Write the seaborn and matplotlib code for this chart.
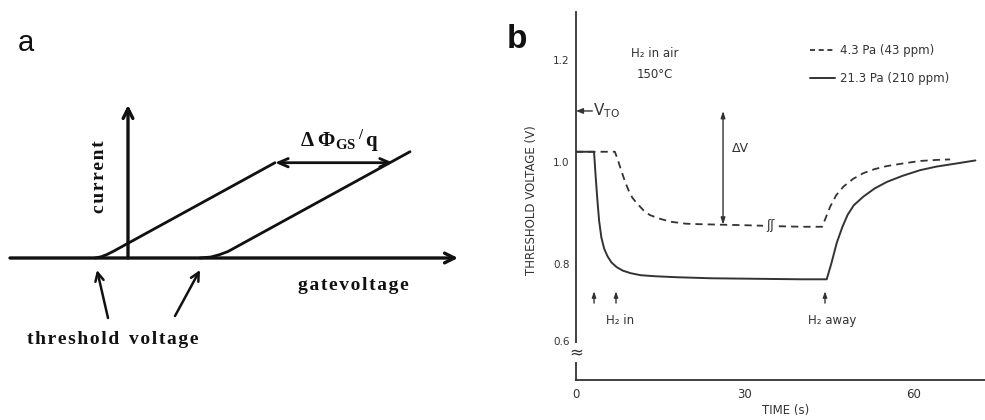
import numpy as np
import matplotlib
matplotlib.use("Agg")
import matplotlib.pyplot as plt
import seaborn as sns
from matplotlib.ticker import FixedLocator, FixedFormatter

# ---------------- Panel b data ----------------
time_high = [0, 3.2, 3.5, 3.8, 4.1, 4.5, 5.0, 5.6, 6.3, 7.2, 8.3, 9.7, 11.5, 14, 18,
             24, 32, 40, 44.5, 45.3, 46.3, 47.3, 48.2, 49.3, 51.0, 53.0, 55.2, 58.0,
             61.1, 64.0, 67.5, 70.9]
vth_high = [1.02, 1.02, 0.97, 0.925, 0.885, 0.852, 0.830, 0.815, 0.803, 0.794, 0.787,
            0.782, 0.778, 0.776, 0.774, 0.772, 0.771, 0.770, 0.770, 0.800, 0.842, 0.873,
            0.896, 0.915, 0.932, 0.948, 0.961, 0.973, 0.984, 0.991, 0.997, 1.003]

time_low_1 = [0, 6.9, 7.4, 7.8, 8.5, 9.3, 10.0, 10.8, 12.0, 13.1, 14.8, 16.7, 19.5,
              22.0, 26.0, 30.0, 33.2]
vth_low_1 = [1.02, 1.02, 1.005, 0.991, 0.968, 0.945, 0.930, 0.919, 0.905, 0.896, 0.889,
             0.883, 0.879, 0.878, 0.877, 0.876, 0.875]
time_low_2 = [36.0, 40.0, 43.7, 45.1, 46.2, 47.5, 49.2, 51.0, 53.0, 55.2, 58.0, 61.1,
              64.0, 66.4]
vth_low_2 = [0.874, 0.873, 0.873, 0.912, 0.935, 0.952, 0.967, 0.978, 0.986, 0.992,
             0.997, 1.002, 1.004, 1.005]

label_low = "4.3 Pa (43 ppm)"
label_high = "21.3 Pa (210 ppm)"
y_ticks = [0.6, 0.8, 1.0, 1.2]
y_tick_labels = ["0.6", "0.8", "1.0", "1.2"]
y_minor = [0.9]
x_ticks = [0, 30, 60]
x_tick_labels = ["0", "30", "60"]
v_to = 1.10
delta_v_time = 26.1
delta_v_low = 0.877
h2_in_times = [3.2, 7.1]
h2_away_time = 44.2
gap_time = 34.6
gap_level = 0.875
axis_break_level = 0.565

# ---------------- Panel a schematic data (arbitrary units) ----------------
gate_axis = [-11.8, 33.0]
current_axis = [0.0, 15.3]
curve1_v = [-3.3, -2.7, -2.1, -1.5, 14.7]
curve1_i = [0.0, 0.12, 0.35, 0.65, 9.53]
curve2_v = [7.2, 8.3, 9.2, 10.0, 28.2]
curve2_i = [0.0, 0.10, 0.35, 0.65, 10.63]
shift_arrow_v = [14.7, 26.5]
shift_arrow_i = 9.53

sns.set_style("white")
plt.rcParams["font.family"] = ["DejaVu Sans"]
plt.rcParams["mathtext.fontset"] = "custom"
plt.rcParams["mathtext.rm"] = "Liberation Serif:bold"
plt.rcParams["mathtext.it"] = "Liberation Serif:bold"
plt.rcParams["mathtext.bf"] = "Liberation Serif:bold"

INK = "#111111"
GREY = "#333333"
SERIF = ["Liberation Serif", "DejaVu Serif"]


def spaced(s):
    return "\u200a".join(s)


fig = plt.figure(figsize=(9.85, 4.2), dpi=100)

# ======================= Panel a =======================
axa = fig.add_axes([0, 0, 490 / 985, 1])
axa.set_xlim(-12.8, 36.2)
axa.set_ylim(-16.2, 25.8)
axa.axis("off")

ap_axis = dict(arrowstyle="->,head_length=0.7,head_width=0.35", lw=2.4, color=INK,
               shrinkA=0, shrinkB=0)
axa.annotate("", xy=(gate_axis[1], 0), xytext=(gate_axis[0], 0), arrowprops=ap_axis)
axa.annotate("", xy=(0, current_axis[1]), xytext=(0, current_axis[0]), arrowprops=ap_axis)

sns.lineplot(x=curve1_v, y=curve1_i, ax=axa, color=INK, lw=2.0, estimator=None, sort=False)
sns.lineplot(x=curve2_v, y=curve2_i, ax=axa, color=INK, lw=2.0, estimator=None, sort=False)

axa.annotate("", xy=(shift_arrow_v[1], shift_arrow_i), xytext=(shift_arrow_v[0], shift_arrow_i),
             arrowprops=dict(arrowstyle="<->,head_length=0.7,head_width=0.3", lw=2.0,
                             color=INK, shrinkA=0, shrinkB=0))
axa.text(17.2, 11.1, r"$\Delta\;\Phi_{GS}\,{}^{/}\,q$", fontsize=15, color=INK,
         ha="left", va="baseline")

axa.text(-2.8, 8.1, spaced("current"), rotation=90, ha="center", va="center",
         fontsize=14, fontweight="bold", family=SERIF, color=INK)
axa.text(17.0, -2.7, spaced("gatevoltage"), ha="left", va="center",
         fontsize=14, fontweight="bold", family=SERIF, color=INK)
axa.text(-10.1, -8.2, spaced("threshold") + "  " + spaced("voltage"), ha="left",
         va="center", fontsize=14, fontweight="bold", family=SERIF, color=INK)

ap_thr = dict(arrowstyle="->,head_length=0.6,head_width=0.3", lw=1.8, color=INK,
              shrinkA=0, shrinkB=0)
axa.annotate("", xy=(-3.1, -1.2), xytext=(-2.0, -6.0), arrowprops=ap_thr)
axa.annotate("", xy=(7.2, -1.2), xytext=(4.7, -5.8), arrowprops=ap_thr)

fig.text(18 / 985, 1 - 43 / 420, "a", fontsize=21, ha="left", va="center", color=INK,
         family=["Liberation Sans", "DejaVu Sans"])
fig.text(507 / 985, 1 - 40 / 420, "b", fontsize=24, fontweight="bold", ha="left",
         va="center", color=INK, family=["Liberation Sans", "DejaVu Sans"])

# ======================= Panel b =======================
axb = fig.add_axes([576 / 985, 40 / 420, 409 / 985, 368 / 420])

BRK, SQ = 0.75, 0.667


def fwd(y):
    y = np.asarray(y, dtype=float)
    return np.where(y >= BRK, y, BRK - (BRK - y) * SQ)


def inv(y):
    y = np.asarray(y, dtype=float)
    return np.where(y >= BRK, y, BRK - (BRK - y) / SQ)


axb.set_yscale("function", functions=(fwd, inv))

sns.lineplot(x=time_low_1, y=vth_low_1, ax=axb, color=GREY, lw=1.3, estimator=None,
             sort=False, label=label_low)
axb.lines[-1].set_dashes((4, 2.8))
sns.lineplot(x=time_low_2, y=vth_low_2, ax=axb, color=GREY, lw=1.3, estimator=None,
             sort=False, label="_nolegend_")
axb.lines[-1].set_dashes((4, 2.8))
sns.lineplot(x=time_high, y=vth_high, ax=axb, color=GREY, lw=1.4, estimator=None,
             sort=False, label=label_high)

axb.set_xlim(0, 72.6)
axb.set_ylim(0.484, 1.294)

for s in ["top", "right"]:
    axb.spines[s].set_visible(False)
for s in ["left", "bottom"]:
    axb.spines[s].set_linewidth(1.3)
    axb.spines[s].set_color(GREY)

axb.yaxis.set_major_locator(FixedLocator(y_ticks))
axb.yaxis.set_major_formatter(FixedFormatter(y_tick_labels))
axb.yaxis.set_minor_locator(FixedLocator(y_minor))
axb.xaxis.set_major_locator(FixedLocator(x_ticks))
axb.xaxis.set_major_formatter(FixedFormatter(x_tick_labels))
axb.xaxis.set_minor_locator(FixedLocator([]))
axb.tick_params(axis="both", which="both", direction="inout", length=4.5, width=1.0,
                color=GREY, labelcolor=GREY, labelsize=7.5)
axb.tick_params(axis="y", pad=2.5)
axb.tick_params(axis="x", pad=3.5, labelsize=8.5)

axb.set_ylabel("THRESHOLD VOLTAGE (V)", fontsize=8.5, color=GREY)
axb.yaxis.set_label_coords(-0.092, 0.49)
axb.set_xlabel("TIME (s)", fontsize=8.5, color=GREY)
axb.xaxis.set_label_coords(0.513, -0.066)

axb.text(14.0, 1.212, "H\u2082 in air", fontsize=8.5, ha="center", va="center", color=GREY)
axb.text(14.0, 1.171, "150\u00b0C", fontsize=8.5, ha="center", va="center", color=GREY)

axb.annotate("", xy=(0, v_to), xytext=(2.9, v_to),
             arrowprops=dict(arrowstyle="-|>,head_length=0.4,head_width=0.16", lw=1.0,
                             color=GREY, shrinkA=0, shrinkB=0), annotation_clip=False)
axb.text(3.1, v_to, r"V$_{\rm TO}$", fontsize=11, ha="left", va="center", color=GREY,
         math_fontfamily="dejavusans")

axb.annotate("", xy=(delta_v_time, delta_v_low), xytext=(delta_v_time, v_to),
             arrowprops=dict(arrowstyle="<|-|>,head_length=0.4,head_width=0.13", lw=1.0,
                             color=GREY, shrinkA=0, shrinkB=0))
axb.text(27.6, 1.027, "\u0394V", fontsize=9, ha="left", va="center", color=GREY)

axb.text(gap_time, gap_level, "\u0283\u0283", fontsize=9, ha="center", va="center",
         color=GREY, bbox=dict(facecolor="white", edgecolor="none", pad=0.5))

ap_small = dict(arrowstyle="-|>,head_length=0.35,head_width=0.12", lw=1.0, color=GREY,
                shrinkA=0, shrinkB=0)
for t in h2_in_times + [h2_away_time]:
    axb.annotate("", xy=(t, 0.745), xytext=(t, 0.71), arrowprops=ap_small)
axb.text(7.8, 0.66, "H\u2082 in", fontsize=8.5, ha="center", va="center", color=GREY)
axb.text(45.5, 0.66, "H\u2082 away", fontsize=8.5, ha="center", va="center", color=GREY)

axb.text(0, axis_break_level, "\u2248", fontsize=12, ha="center", va="center", color=GREY,
         clip_on=False, zorder=5,
         bbox=dict(facecolor="white", edgecolor="none", pad=0.3))

leg = axb.legend(loc="upper left", bbox_to_anchor=(810 / 985, 1 - 44 / 420),
                 bbox_transform=fig.transFigure, frameon=False, fontsize=8.5,
                 handlelength=2.1, handletextpad=0.4, labelspacing=1.3,
                 borderaxespad=0, borderpad=0)
leg.get_lines()[0].set_dashes((2.8, 2.0))
for txt in leg.get_texts():
    txt.set_color(GREY)

fig.savefig("out.png", dpi=100, facecolor="white")
